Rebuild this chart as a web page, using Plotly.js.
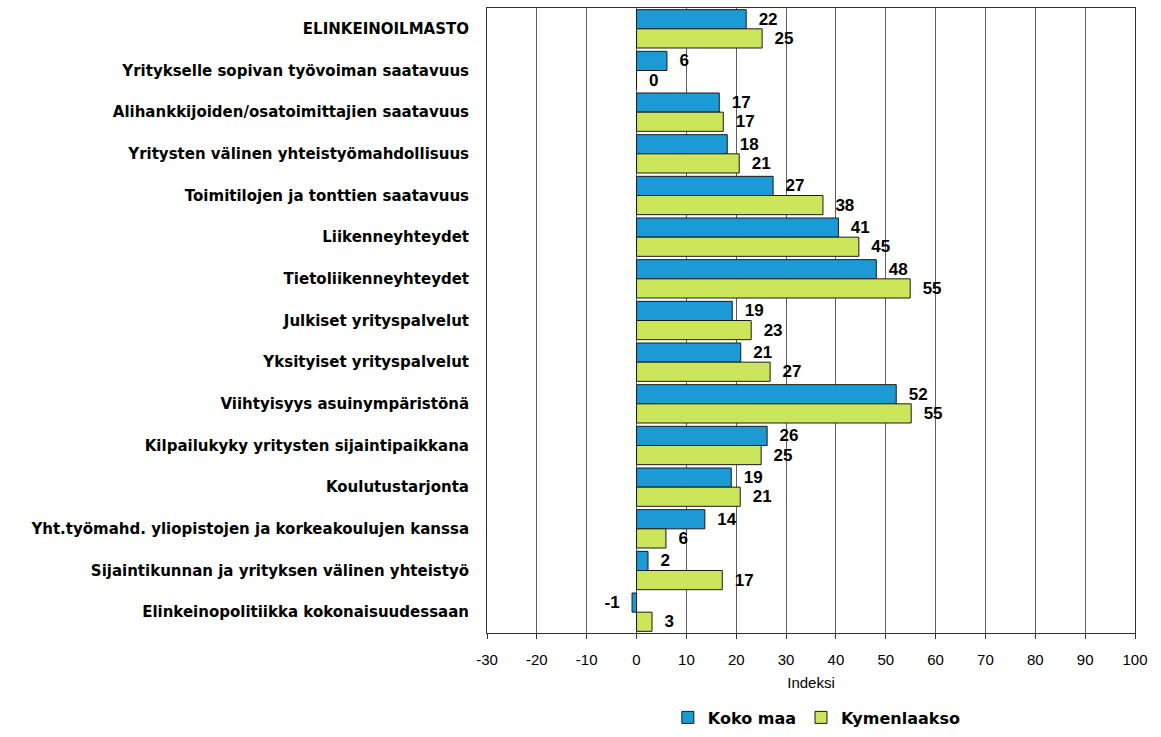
<!DOCTYPE html>
<html>
<head>
<meta charset="utf-8">
<script src="https://cdn.plot.ly/plotly-3.0.1.min.js"></script>
<style>html,body{margin:0;padding:0;background:#fff;}#chart{width:1161px;height:737px;}</style>
</head>
<body>
<div id="chart"></div>
<script>
const categories = [
  "ELINKEINOILMASTO",
  "Yritykselle sopivan työvoiman saatavuus",
  "Alihankkijoiden/osatoimittajien saatavuus",
  "Yritysten välinen yhteistyömahdollisuus",
  "Toimitilojen ja tonttien saatavuus",
  "Liikenneyhteydet",
  "Tietoliikenneyhteydet",
  "Julkiset yrityspalvelut",
  "Yksityiset yrityspalvelut",
  "Viihtyisyys asuinympäristönä",
  "Kilpailukyky yritysten sijaintipaikkana",
  "Koulutustarjonta",
  "Yht.työmahd. yliopistojen ja korkeakoulujen kanssa",
  "Sijaintikunnan ja yrityksen välinen yhteistyö",
  "Elinkeinopolitiikka kokonaisuudessaan"
];
const kokoMaa =     [22.0, 6.1, 16.6, 18.2, 27.4, 40.5, 48.1, 19.2, 20.9, 52.1, 26.2, 19.0, 13.7, 2.3, -0.9];
const kymenlaakso = [25.2, 0.0, 17.4, 20.6, 37.4, 44.6, 54.9, 23.0, 26.8, 55.1, 25.0, 20.8, 5.9, 17.2, 3.1];
const kokoMaaLabels =     [22, 6, 17, 18, 27, 41, 48, 19, 21, 52, 26, 19, 14, 2, -1];
const kymenlaaksoLabels = [25, 0, 17, 21, 38, 45, 55, 23, 27, 55, 25, 21, 6, 17, 3];
const xTicks = [-30, -20, -10, 0, 10, 20, 30, 40, 50, 60, 70, 80, 90, 100];

const pad = '\u00a0\u00a0';
function lbl(arr){ return arr.map(v => v < 0 ? (String(v) + pad) : (pad + String(v))); }

const textFont = {family: 'Liberation Sans, Arial, sans-serif', size: 17, color: '#000', weight: 'bold'};

const traces = [
  {
    type: 'bar', orientation: 'h', name: 'Koko maa',
    y: categories, x: kokoMaa,
    text: lbl(kokoMaaLabels), textposition: 'outside', constraintext: 'none', cliponaxis: false,
    textfont: textFont,
    marker: {color: '#1B9AD6', line: {color: '#1a1a1a', width: 1}},
    hoverinfo: 'x+y'
  },
  {
    type: 'bar', orientation: 'h', name: 'Kymenlaakso',
    y: categories, x: kymenlaakso,
    text: lbl(kymenlaaksoLabels), textposition: 'outside', constraintext: 'none', cliponaxis: false,
    textfont: textFont,
    marker: {color: '#CCE65C', line: {color: '#1a1a1a', width: 1}},
    hoverinfo: 'x+y'
  }
];

const layout = {
  width: 1161, height: 737,
  margin: {l: 487, r: 26, t: 8, b: 104, autoexpand: false},
  paper_bgcolor: '#fff', plot_bgcolor: '#fff',
  barmode: 'group', bargap: 0.08, bargroupgap: 0,
  font: {family: 'Liberation Sans, Arial, sans-serif', size: 15, color: '#000'},
  xaxis: {
    range: [-30, 100], tickvals: xTicks, ticktext: xTicks.map(String),
    showgrid: true, gridcolor: '#5f5f5f', gridwidth: 1,
    zeroline: true, zerolinecolor: '#5f5f5f', zerolinewidth: 1,
    showline: true, linecolor: '#333', linewidth: 1, mirror: true,
    ticks: 'outside', ticklen: 5, tickcolor: '#333',
    ticklabelstandoff: 8, automargin: false,
    tickfont: {family: 'Liberation Sans, Arial, sans-serif', size: 15, color: '#000'},
    title: {text: 'Indeksi', font: {family: 'Liberation Sans, Arial, sans-serif', size: 15, color: '#000'}, standoff: 10},
    fixedrange: true
  },
  yaxis: {
    autorange: 'reversed', type: 'category', automargin: false,
    showgrid: false, zeroline: false,
    showline: true, linecolor: '#333', linewidth: 1, mirror: true,
    ticks: '', ticklabelstandoff: 14,
    tickfont: {family: 'DejaVu Sans, sans-serif', size: 15, color: '#000', weight: 'bold'},
    fixedrange: true
  },
  legend: {
    orientation: 'h', x: 0.509, xanchor: 'center', y: -0.108, yanchor: 'top',
    font: {family: 'DejaVu Sans, sans-serif', size: 16, color: '#000', weight: 'bold'},
    itemwidth: 30, tracegroupgap: 0
  },
  showlegend: true
};

Plotly.newPlot('chart', traces, layout, {displayModeBar: false, staticPlot: true});
</script>
</body>
</html>
